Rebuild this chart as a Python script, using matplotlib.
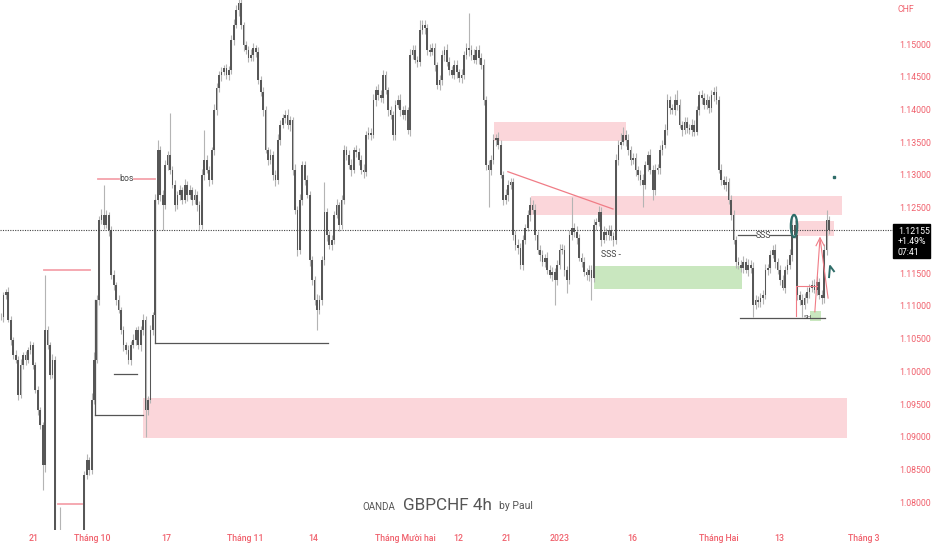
import numpy as np
import matplotlib.pyplot as plt
from matplotlib.patches import Rectangle, Ellipse

closes = [
    11083, 11117, 11121, 11079, 11048, 11025, 11018, 10964, 11010, 11025, 11018, 11033, 11040, 11010, 10972, 10941, 10918, 10857, 11063, 11040,
    10995, 11018, 10712, 10682, 10712, 10697, 10689, 10682, 10697, 10689, 10705, 10712, 10720, 10743, 10842, 10865, 10850, 10957, 11018, 11109,
    11231, 11239, 11224, 11239, 11216, 11147, 11132, 11109, 11094, 11063, 11040, 11033, 11018, 11040, 11048, 11063, 11040, 11063, 11079, 10941,
    10957, 11063, 11086, 11262, 11338, 11270, 11254, 11315, 11331, 11308, 11285, 11254, 11270, 11277, 11262, 11285, 11270, 11277, 11262, 11270,
    11254, 11224, 11300, 11323, 11308, 11292, 11338, 11399, 11433, 11453, 11457, 11463, 11453, 11460, 11506, 11529, 11552, 11563, 11529, 11498,
    11491, 11479, 11483, 11494, 11488, 11445, 11427, 11399, 11338, 11323, 11331, 11300, 11292, 11353, 11376, 11387, 11392, 11376, 11384, 11308,
    11247, 11186, 11262, 11315, 11292, 11270, 11170, 11140, 11109, 11094, 11109, 11170, 11244, 11208, 11193, 11201, 11239, 11254, 11224, 11262,
    11338, 11331, 11315, 11308, 11338, 11335, 11323, 11308, 11305, 11361, 11364, 11361, 11415, 11430, 11422, 11418, 11453, 11430, 11399, 11392,
    11361, 11407, 11415, 11399, 11392, 11399, 11369, 11483, 11491, 11476, 11473, 11521, 11529, 11525, 11491, 11488, 11494, 11468, 11437, 11445,
    11483, 11491, 11473, 11460, 11453, 11468, 11457, 11448, 11453, 11483, 11494, 11491, 11483, 11476, 11491, 11479, 11468, 11415, 11315, 11308,
    11323, 11353, 11357, 11346, 11300, 11262, 11270, 11285, 11289, 11208, 11193, 11189, 11163, 11201, 11219, 11239, 11254, 11247, 11208, 11186,
    11178, 11167, 11173, 11155, 11147, 11152, 11140, 11163, 11186, 11186, 11155, 11140, 11208, 11219, 11213, 11204, 11173, 11167, 11152, 11147,
    11155, 11143, 11224, 11228, 11244, 11201, 11213, 11208, 11216, 11207, 11201, 11323, 11346, 11350, 11361, 11353, 11338, 11323, 11326, 11308,
    11300, 11292, 11285, 11315, 11331, 11308, 11277, 11308, 11311, 11338, 11346, 11369, 11415, 11402, 11399, 11415, 11407, 11376, 11369, 11381,
    11372, 11369, 11376, 11366, 11399, 11422, 11418, 11407, 11415, 11402, 11422, 11427, 11415, 11308, 11292, 11285, 11289, 11262, 11239, 11201,
    11167, 11163, 11158, 11167, 11155, 11163, 11158, 11102, 11109, 11106, 11112, 11117, 11155, 11158, 11178, 11186, 11167, 11155, 11140, 11128,
    11155, 11163, 11178, 11224, 11208, 11117, 11109, 11102, 11112, 11121, 11128, 11132, 11124, 11137, 11117, 11112, 11186, 11231, 11216,
]
# wick lengths above / below the body, pips
hi_wick = [
    6, 4, 5, 8, 5, 4, 7, 6, 9, 5, 6, 4, 7, 5, 4, 6, 5, 4, 84, 6,
    5, 8, 6, 5, 81, 4, 6, 5, 7, 4, 5, 6, 5, 8, 6, 9, 5, 10, 12, 8,
    6, 9, 46, 7, 5, 6, 8, 5, 7, 4, 6, 5, 8, 6, 9, 5, 7, 6, 8, 5,
    6, 8, 5, 9, 15, 6, 7, 8, 6, 64, 5, 7, 6, 8, 5, 9, 6, 7, 5, 8,
    6, 7, 9, 46, 8, 6, 5, 9, 7, 6, 8, 5, 7, 6, 8, 9, 7, 6, 8, 5,
    7, 6, 9, 8, 5, 7, 6, 8, 7, 5, 9, 6, 7, 10, 8, 6, 7, 9, 6, 5,
    8, 6, 9, 7, 6, 8, 5, 7, 6, 9, 8, 7, 45, 6, 7, 8, 6, 9, 5, 7,
    8, 6, 7, 9, 5, 8, 6, 7, 8, 6, 9, 7, 8, 6, 9, 7, 8, 6, 5, 7,
    6, 8, 7, 9, 6, 8, 5, 9, 7, 8, 6, 16, 8, 7, 6, 9, 7, 8, 5, 7,
    8, 6, 9, 7, 6, 8, 7, 5, 9, 6, 8, 53, 7, 9, 6, 8, 7, 9, 6, 8,
    7, 9, 6, 8, 7, 6, 9, 8, 7, 6, 8, 9, 7, 8, 6, 7, 12, 8, 9, 6,
    7, 8, 6, 9, 7, 8, 6, 7, 9, 8, 7, 6, 8, 47, 7, 9, 6, 8, 7, 6,
    8, 7, 9, 6, 8, 7, 9, 6, 8, 7, 6, 9, 8, 14, 12, 7, 9, 6, 8, 7,
    6, 8, 9, 7, 6, 8, 7, 9, 6, 8, 7, 9, 8, 6, 7, 8, 15, 9, 6, 8,
    7, 6, 9, 8, 7, 6, 8, 7, 9, 6, 8, 7, 9, 6, 8, 7, 9, 6, 8, 7,
    6, 8, 7, 9, 6, 8, 7, 9, 8, 6, 7, 8, 9, 6, 8, 7, 9, 6, 8, 7,
    6, 8, 9, 15, 7, 8, 6, 9, 7, 8, 6, 7, 9, 8, 6, 7, 8, 16, 6,
]
lo_wick = [
    5, 7, 6, 4, 8, 6, 5, 7, 5, 6, 8, 5, 7, 6, 5, 8, 6, 38, 10, 6,
    7, 5, 9, 6, 8, 5, 7, 6, 5, 8, 6, 7, 5, 6, 9, 7, 8, 6, 7, 5,
    8, 6, 7, 5, 9, 6, 7, 8, 5, 6, 9, 7, 6, 8, 5, 7, 6, 9, 8, 41,
    7, 5, 8, 6, 7, 9, 38, 6, 8, 7, 5, 9, 6, 8, 7, 5, 9, 6, 8, 7,
    9, 8, 6, 7, 5, 9, 6, 8, 7, 6, 9, 5, 7, 8, 6, 7, 5, 9, 6, 8,
    6, 7, 5, 9, 8, 6, 7, 9, 5, 8, 6, 7, 9, 6, 8, 5, 7, 6, 9, 8,
    7, 9, 6, 8, 7, 5, 9, 8, 7, 31, 6, 8, 7, 9, 6, 8, 7, 5, 9, 6,
    7, 8, 6, 9, 5, 7, 8, 6, 9, 7, 6, 8, 5, 9, 7, 6, 8, 7, 9, 6,
    8, 7, 5, 9, 6, 8, 7, 9, 6, 5, 8, 7, 6, 9, 8, 7, 5, 9, 6, 8,
    7, 9, 6, 8, 5, 7, 9, 6, 8, 7, 6, 9, 8, 5, 7, 9, 6, 8, 7, 57,
    8, 6, 9, 7, 5, 8, 7, 9, 6, 8, 7, 9, 6, 8, 7, 5, 9, 6, 8, 7,
    9, 6, 8, 7, 5, 9, 38, 8, 6, 7, 9, 20, 6, 8, 7, 9, 5, 8, 6, 7,
    9, 34, 7, 8, 6, 9, 5, 7, 8, 6, 9, 7, 8, 6, 5, 9, 7, 8, 6, 9,
    7, 8, 34, 6, 9, 7, 15, 8, 6, 9, 7, 5, 8, 9, 6, 7, 8, 5, 9, 7,
    8, 6, 9, 7, 5, 8, 9, 6, 7, 8, 6, 9, 7, 5, 8, 6, 9, 7, 8, 6,
    9, 7, 6, 8, 5, 9, 7, 19, 6, 8, 7, 9, 6, 8, 7, 5, 9, 6, 8, 4,
    8, 6, 7, 9, 5, 8, 7, 19, 6, 8, 9, 7, 5, 8, 6, 9, 7, 8, 6,
]

time_pos = [13.5, 37.1, 67.3, 99.6, 127.3, 164.9, 186.5, 206.5, 228.2, 257.6, 293.1, 317.6, 352.2]
time_lab = ['21', 'Tháng 10', '17', 'Tháng 11', '14', 'Tháng Mười hai', '12', '21', '2023',
            '16', 'Tháng Hai', '13', 'Tháng 3']
# 1.12000 sits under the last-price box, so it is not listed
price_ticks = [1.08, 1.085, 1.09, 1.095, 1.10, 1.105, 1.11, 1.115, 1.125, 1.13,
               1.135, 1.14, 1.145, 1.15]
last_price = 1.12155

# drawings: (x0, x1, y0, y1) in bars / price
pink_zones = [(58.0, 345.3, 1.0899, 1.0960), (201.2, 255.1, 1.1352, 1.1381),
              (216.3, 343.3, 1.1239, 1.1268), (324.9, 340.0, 1.1207, 1.1230)]
green_zones = [(242.0, 302.4, 1.1126, 1.1161), (330.2, 334.7, 1.1077, 1.1092)]
grey_hlines = [(62.9, 133.5, 1.1044), (38.4, 58.0, 1.0934), (46.1, 55.5, 1.0996),
               (301.6, 336.3, 1.1082), (300.8, 308.2, 1.1208), (313.9, 322.0, 1.1208)]
grey_vlines = [(38.4, 1.0934, 1.1109), (62.9, 1.1044, 1.1262)]
pink_hlines = [(39.6, 48.2, 1.1294), (54.3, 62.9, 1.1294), (17.6, 36.3, 1.1155), (23.3, 33.1, 1.0798)]
trend_x = [206.9, 249.8]
trend_y = [1.1305, 1.1248]
arrow_x = [332.2, 334.3, 337.6]
arrow_y = [1.1091, 1.1204, 1.1112]
head_x = [332.7, 334.3, 336.0]
head_y = [1.1192, 1.1204, 1.1192]
box_x = [333.1, 324.5, 324.5]
box_y = [1.1131, 1.1131, 1.1084]
check_x = [338.0, 338.4, 340.0]
check_y = [1.1144, 1.1161, 1.1153]

RED = '#f0616d'
PINK = '#fbd6da'
GREEN = '#c9e7bf'

plt.rcParams['font.family'] = ['Roboto', 'DejaVu Sans']

W, H = 932, 550
fig = plt.figure(figsize=(W / 100, H / 100), dpi=100)
ax = fig.add_axes([0, 20 / H, 893 / W, 530 / H])

c = np.array(closes) / 1e4
o = np.r_[c[0], c[:-1]]
hi = np.maximum(o, c) + np.array(hi_wick) / 1e4
lo = np.minimum(o, c) - np.array(lo_wick) / 1e4
x = np.arange(len(c))

for x0, x1, y0, y1 in pink_zones:
    ax.add_patch(Rectangle((x0, y0), x1 - x0, y1 - y0, color=PINK, lw=0, zorder=1))
for x0, x1, y0, y1 in green_zones:
    ax.add_patch(Rectangle((x0, y0), x1 - x0, y1 - y0, color=GREEN, lw=0, zorder=1))

ax.vlines(x, lo, hi, color='#b4b4b4', lw=0.8, zorder=2)
ax.bar(x, np.maximum(np.abs(c - o), 0.00003), bottom=np.minimum(o, c), width=0.7,
       color='#575757', lw=0, zorder=3)

for x0, x1, y in grey_hlines:
    ax.plot([x0, x1], [y, y], color='#555555', lw=0.9, zorder=4)
for xx, y0, y1 in grey_vlines:
    ax.plot([xx, xx], [y0, y1], color='#555555', lw=0.9, zorder=4)
for x0, x1, y in pink_hlines:
    ax.plot([x0, x1], [y, y], color='#f4a3ab', lw=1.3, zorder=4)
ax.plot(trend_x, trend_y, color='#f07c86', lw=0.9, zorder=4)
ax.plot(arrow_x, arrow_y, color='#f07c86', lw=0.8, zorder=4)
ax.plot(head_x, head_y, color='#f07c86', lw=0.8, zorder=4)
ax.plot(box_x, box_y, color='#f07c86', lw=0.8, zorder=4)
ax.add_patch(Ellipse((323.7, 1.1222), 2.6, 0.0034, fill=False, ec='#2f6d69', lw=1.6, zorder=5))
ax.plot(check_x, check_y, color='#2f6d69', lw=1.4, zorder=5)
ax.plot([340.0], [1.1297], 's', color='#2f6d69', ms=1.5, zorder=5)

ax.text(51.2, 1.1294, 'bos', fontsize=6.3, color='#444444', ha='center', va='center', zorder=5)
ax.text(311.0, 1.1208, 'SSS', fontsize=6.3, color='#444444', ha='center', va='center', zorder=5)
ax.text(249.0, 1.1179, 'SSS -', fontsize=6.3, color='#444444', ha='center', va='center', zorder=5)
ax.text(329.4, 1.1082, 'SH', fontsize=4.5, color='#444444', ha='center', va='center', zorder=5)

ax.axhline(last_price, color='#444444', lw=0.8, ls=(0, (1, 1.2)), zorder=4)

ax.set_xlim(-0.41, 364.1)
ax.set_ylim(1.07578, 1.15672)
for s in ax.spines.values():
    s.set_visible(False)
ax.set_xticks(time_pos, time_lab)
ax.set_yticks(price_ticks, ['%.5f' % p for p in price_ticks])
ax.yaxis.tick_right()
ax.tick_params(axis='x', length=0, pad=3, labelsize=6.3, labelcolor=RED)
ax.tick_params(axis='y', length=0, pad=4.5, labelsize=6.3, labelcolor=RED)
for t in ax.get_xticklabels():
    t.set_fontweight('medium')

fig.text(906 / W, 1 - 9 / H, 'CHF', fontsize=6.3, color=RED, ha='center', va='center')
fig.patches.append(Rectangle((893 / W, 1 - 258 / H), 37 / W, 34 / H, transform=fig.transFigure,
                             color='black', zorder=5))
fig.text(898 / W, 1 - 231.5 / H, '1.12155', fontsize=6.3, color='white', ha='left', va='center', zorder=6)
fig.text(898 / W, 1 - 242 / H, '+1.49%', fontsize=6.3, color='white', ha='left', va='center', zorder=6)
fig.text(898 / W, 1 - 252.5 / H, '07:41', fontsize=6.3, color='white', ha='left', va='center', zorder=6)

fig.text(379 / W, 1 - 507 / H, 'OANDA', fontsize=7, color='#555555', ha='center', va='center')
fig.text(447 / W, 1 - 506 / H, 'GBPCHF 4h', fontsize=12.3, color='#555555', ha='center', va='center')
fig.text(516 / W, 1 - 506 / H, 'by Paul', fontsize=7.5, color='#555555', ha='center', va='center')

fig.savefig('out.png', dpi=100)
